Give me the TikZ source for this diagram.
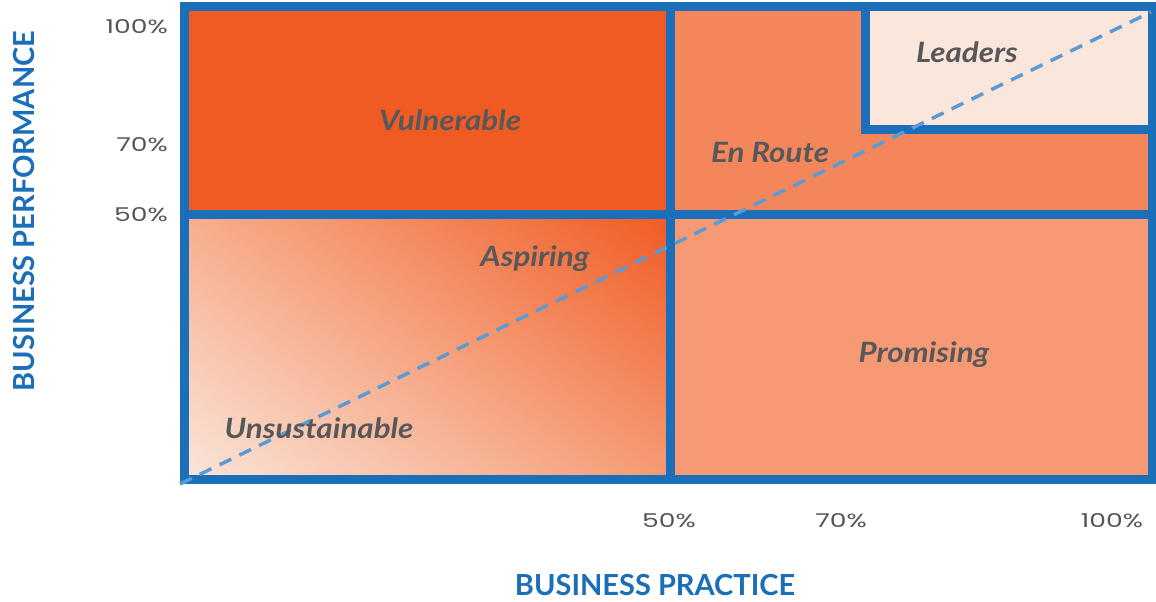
\documentclass[tikz,border=0pt]{standalone}
\usepackage{fontspec}
\usetikzlibrary{shadings}
\setmainfont{Lato}
\newfontfamily\tickfont{Poppins}
\definecolor{frameblue}{HTML}{1B6EB8}
\definecolor{dashblue}{HTML}{5B9BD5}
\definecolor{vulnc}{HTML}{F05A23}
\definecolor{enroutec}{HTML}{F3865A}
\definecolor{leadc}{HTML}{FAE6DA}
\definecolor{promc}{HTML}{F69A75}
\definecolor{aspdark}{HTML}{F05A22}
\definecolor{asplight}{HTML}{FAE6DA}
\definecolor{aspmidA}{HTML}{F7AE8D}
\definecolor{aspmidB}{HTML}{F59A74}
\definecolor{labelgray}{HTML}{58585A}
\definecolor{tickgray}{HTML}{555555}
\tikzset{
  region/.style={text=labelgray, xscale=1.12, font=\fontsize{28}{32}\selectfont\bfseries\itshape},
  tick/.style={text=tickgray, xscale=1.4, font=\tickfont\fontsize{19}{22}\selectfont, inner sep=0pt},
  axistitle/.style={text=frameblue, font=\fontsize{29}{33}\selectfont\bfseries, inner sep=0pt},
  gridline/.style={frameblue, line width=9pt},
  diag/.style={dashblue, line width=3.5pt, dash pattern=on 13pt off 9pt}
}
\begin{document}
\begin{tikzpicture}[x=1pt, y=-1pt]
\useasboundingbox (0,0) rectangle (1156,602);
% fills
\fill[vulnc] (184,7) rectangle (670,214);
\fill[enroutec] (670,7) rectangle (1152,214);
\fill[leadc] (865,7) rectangle (1152,129);
\fill[promc] (670,214) rectangle (1152,479);
\shade[upper right=aspdark, lower left=asplight, upper left=aspmidA, lower right=aspmidB] (184,214) rectangle (670,479);
% grid lines
\draw[gridline, line join=miter] (184,7) rectangle (1152,479);
\draw[gridline] (670,7) -- (670,479);
\draw[gridline] (184,214) -- (1152,214);
\draw[gridline] (865,7) -- (865,129) -- (1152,129);
% diagonal
\coordinate (d0) at (180,484);
\coordinate (d1) at (1151,12);
\draw[diag] (d0) -- (d1);
% region labels
\node[region] (vul) at (450,120) {Vulnerable};
\node[region] (enr) at (770,152) {En Route};
\node[region] (lead) at (967,52) {Leaders};
\node[region] (asp) at (535,259) {Aspiring};
\node[region] (prom) at (924,355) {Promising};
\node[region] (uns) at (319,428) {Unsustainable};
% y ticks
\node[tick, anchor=east] (y100) at (168,27) {100\%};
\node[tick, anchor=east] (y70) at (168,145) {70\%};
\node[tick, anchor=east] (y50) at (168,215) {50\%};
% x ticks
\node[tick] (x50) at (669,521) {50\%};
\node[tick] (x70) at (841,521) {70\%};
\node[tick] (x100) at (1112,521) {100\%};
% axis titles
\node[axistitle] (xt) at (655,585) {BUSINESS PRACTICE};
\node[axistitle, rotate=90] (yt) at (24,211) {BUSINESS PERFORMANCE};
\end{tikzpicture}
\end{document}
